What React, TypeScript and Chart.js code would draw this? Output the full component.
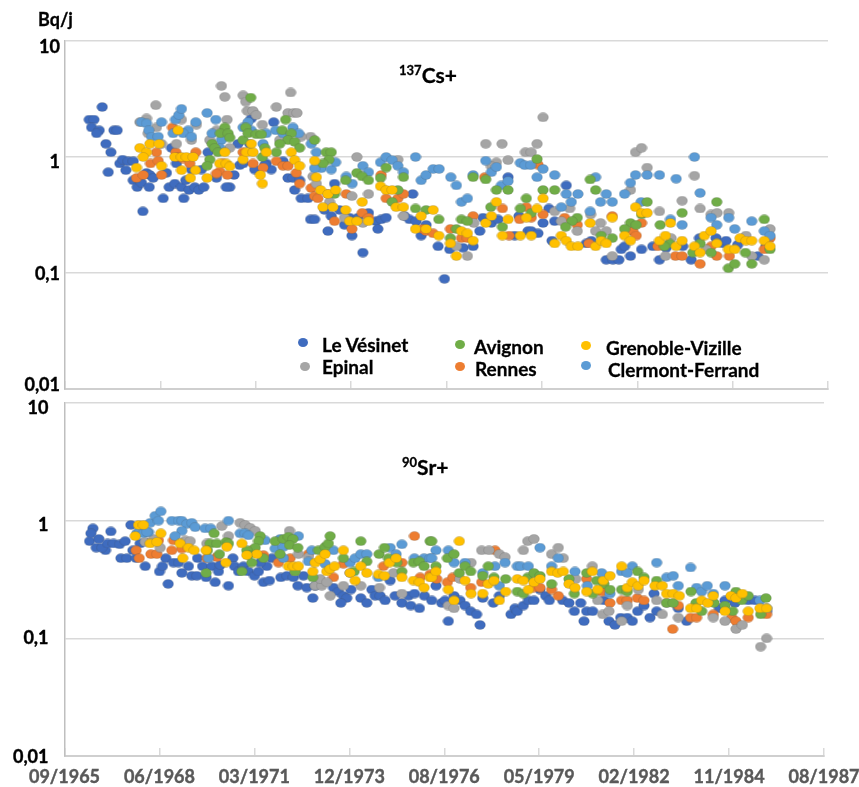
import React, { useEffect, useRef } from "react";
import { Chart, registerables } from "chart.js";

Chart.register(...registerables);

type P = [number, number];

const xTickLabels = ["09/1965", "06/1968", "03/1971", "12/1973", "08/1976", "05/1979", "02/1982", "11/1984", "08/1987"];
const yTickValues = [10, 1, 0.1, 0.01];
const yTickLabels = ["10", "1", "0,1", "0,01"];
const seriesNames = ["Le Vésinet", "Rennes", "Epinal", "Clermont-Ferrand", "Avignon", "Grenoble-Vizille"];
const seriesColors = ["#3F6CBF", "#ED7D31", "#A5A5A5", "#5B9BD5", "#70AD47", "#FFC000"];

const csVesinet: P[] = [[24254,2.1],[24303,2.1],[24279,1.8],[24359,1.7],[24331,1.6],[24390,2.7],[24429,1.3],[24481,1.1],[24453,.74],[24513,1.7],[24547,1.7],[24575,.88],[24603,.95],[24638,.77],[24663,.92],[24715,.92],[24715,.63],[24757,.55],[24802,.6],[24855,.73],[24890,.7],[24924,.66],[24883,.55],[25029,.44],[25064,.73],[25092,.55],[25151,.59],[25221,.55],[25245,.44],[25169,.88],[25116,1.2],[25266,.63],[25301,.52],[25361,.55],[25403,.52],[25455,.55],[24816,.34],[25326,.78],[25430,.78],[25500,1.1],[25588,.66],[25727,.55],[25692,.55],[25772,.7],[25814,1.3],[25832,.85],[25867,.88],[25937,1.3],[25954,2.15],[25989,.78],[26111,.88],[26163,.78],[26094,.85],[26188,2],[26286,.92],[26338,.66],[26390,.66],[26408,.52],[26460,.63],[26477,.44],[26547,.44],[26575,.29],[26617,.29],[26757,.23],[26722,.35],[26792,.31],[26826,.59],[26879,.35],[26931,.26],[26983,.3],[27008,.21],[27071,.3],[27123,.15],[27182,.33],[27262,.28],[27280,.24],[27315,.29],[27367,.3],[27646,.48],[27559,.31],[27612,.29],[27681,.28],[27734,.21],[27786,.26],[27912,.17],[27979,.089],[28034,.16],[28174,.165],[28279,.17],[28349,.23],[28383,.3],[28471,.27],[28540,.29],[28645,.67],[28715,.21],[28760,.31],[28855,.23],[28889,.23],[28959,.22],[29012,.27],[29074,.36],[29106,.19],[29134,.28],[29256,.57],[29465,.18],[29518,.19],[29675,.13],[29745,.13],[29807,.13],[29832,.16],[29867,.17],[29929,.14],[30045,.16],[30163,.17],[30233,.13],[30303,.165],[30477,.17],[30565,.13],[30652,.2],[30826,.2],[30896,.18],[30931,.19],[31053,.175],[31263,.14],[31350,.17]];
const csRennes: P[] = [[25127,1.8],[25162,1.1],[25176,1],[25239,.97],[25308,.88],[25371,1.1],[24750,.66],[24820,.7],[24896,.88],[24959,1.1],[24977,.93],[25012,.7],[25622,.75],[25588,.72],[25703,.7],[25657,.88],[25867,1.1],[25971,.88],[26076,.81],[26216,.92],[26286,.84],[26338,.84],[26425,.73],[26460,.59],[26582,.54],[26617,.46],[26652,.44],[26826,.28],[26949,.48],[27008,.24],[27116,.33],[27182,.3],[27315,.7],[27367,.44],[27490,.44],[27549,.48],[27751,.24],[27786,.23],[26757,.48],[28401,.67],[28959,.86],[28837,.37],[28586,.36],[28279,.31],[28041,.24],[28157,.2],[28219,.2],[27860,.22],[28656,.21],[28767,.29],[28889,.3],[29012,.32],[29238,.3],[29371,.26],[29738,.31],[29493,.18],[29954,.23],[29989,.21],[30045,.27],[30216,.17],[30401,.14],[30470,.14],[30659,.12],[30833,.14],[30774,.17],[30966,.14],[31332,.16],[31392,.2]];
const csEpinal: P[] = [[25640,4.1],[25675,3.3],[25867,3.4],[25895,3],[25912,2.5],[25971,2.5],[26006,2.3],[26069,1.9],[26216,2.7],[26366,3.6],[26338,2.4],[26397,2.4],[26432,2.4],[26575,1.5],[24952,2.8],[24785,2],[24855,2.15],[24959,1.8],[25169,1.3],[25221,2.1],[25326,1.4],[25378,1.9],[25699,2.1],[25727,1.2],[25518,1.4],[25588,1.7],[27060,1],[27182,.48],[27490,.95],[26635,.59],[26600,.68],[27008,.46],[26774,.41],[26931,.3],[27123,.27],[27549,.31],[24872,1.6],[25012,1.3],[26251,1.4],[26477,1.5],[28411,1.3],[28582,1.3],[28645,.94],[28523,.9],[28471,.83],[28827,1.1],[28889,1.1],[28949,1.3],[29012,2.2],[29982,1.1],[30045,1.2],[30104,.81],[29929,.52],[30233,.34],[30470,.42],[30600,.69],[30659,.36],[30774,.32],[30837,.33],[30959,.33],[28219,.14],[28104,.17],[28286,.27],[29134,.34],[29204,.28],[29291,.36],[29371,.23],[29511,.32],[29563,.23],[29615,.27],[29675,.23],[29738,.14],[30296,.14],[30355,.2],[31200,.14],[31332,.13],[31392,.24],[31140,.21],[30722,.16]];
const csClermont: P[] = [[24802,2],[24855,1.95],[24879,1.7],[24907,1.5],[24977,1.5],[25012,2],[25134,1.6],[25158,2.1],[25193,2.3],[25221,2.6],[25291,1.7],[25239,1.6],[25326,1.5],[25371,2],[25490,2.4],[25581,2.1],[25542,1.6],[25640,1.4],[25867,1.8],[25919,2],[25954,1.7],[26111,1.6],[26209,1.7],[26286,1.6],[26390,1.8],[26450,1.6],[26582,1.3],[26635,1.1],[26687,.8],[26792,.78],[26837,.9],[26949,.68],[27011,.59],[27123,.84],[27182,.74],[27308,.9],[27367,1],[27430,.94],[27490,.84],[27549,.74],[27675,1],[27734,.63],[27786,.7],[26076,1.3],[25622,1.2],[26617,.8],[27860,.79],[27923,.79],[28045,.67],[28104,.57],[28157,.41],[28219,.44],[28279,.7],[28411,.93],[28471,.74],[28523,.82],[28575,.57],[28645,.62],[28774,.89],[28820,.85],[28882,.85],[28949,.67],[29012,.79],[29134,.7],[29256,.48],[29308,.41],[29378,.48],[29507,.34],[29563,.67],[29615,.41],[29675,.48],[29738,.41],[29867,.48],[29929,.6],[29982,.7],[30104,.7],[30041,.41],[30233,.7],[30348,.29],[30408,.65],[30470,.26],[30600,1],[30659,.49],[30774,.3],[30833,.26],[30959,.3],[31022,.24],[31200,.28],[31332,.23],[31392,.21],[29204,.37]];
const csAvignon: P[] = [[25947,3.25],[26313,2.1],[25675,1.8],[25629,1.6],[25710,1.6],[25727,1.47],[25895,1.8],[25867,1.4],[25919,1.6],[26006,1.57],[26059,1.57],[26094,1.2],[26069,1],[26279,1.7],[26373,1.6],[26338,1.4],[26408,1.35],[26460,1.2],[26251,1.3],[26216,1.1],[26617,1.4],[26739,1.1],[26792,1.1],[26767,.95],[26704,.88],[25542,1.3],[25570,1.2],[25605,1.1],[25518,.95],[25490,.84],[26942,.63],[27060,.73],[27116,.68],[27182,.63],[27367,.81],[27308,.66],[27490,.52],[27549,.67],[27675,.36],[27786,.35],[27430,.41],[26826,.48],[28279,.67],[28411,.64],[28523,.52],[28645,.52],[28949,.96],[29012,.52],[29134,.52],[28837,.44],[28774,.36],[28464,.37],[28889,.33],[28586,.25],[27919,.29],[28157,.29],[28219,.28],[28104,.24],[28041,.2],[29507,.64],[29563,.52],[30104,.41],[30045,.32],[29929,.27],[29989,.26],[29867,.24],[29371,.3],[29315,.28],[29249,.25],[29738,.2],[30240,.26],[30470,.33],[30833,.41],[31332,.29],[30659,.18],[30774,.15],[30582,.15],[30338,.18],[30285,.17],[30956,.11],[31022,.12],[31200,.12],[31134,.15],[31392,.16],[29622,.21]];
const csGrenoble: P[] = [[24785,1.2],[24855,1.1],[24820,1],[24750,.81],[24890,1.3],[24987,1.3],[25012,.84],[25186,1.7],[25151,1],[25221,1],[25273,1],[25343,1],[25221,.77],[25315,.66],[25368,.77],[25490,.66],[25622,.88],[25692,.88],[25727,.83],[25675,1.1],[25867,.95],[25902,1.1],[25971,1.1],[25954,1.3],[26048,.7],[26069,.59],[26111,1.1],[26373,1.1],[26408,.94],[26460,.84],[26617,.93],[26635,.67],[26680,.52],[26757,.48],[26837,.52],[26704,.37],[26809,.37],[26942,.35],[26983,.28],[27060,.28],[27116,.41],[27182,.28],[27308,.56],[27367,.52],[27430,.52],[27472,.37],[27549,.37],[27675,.24],[27734,.31],[27786,.24],[27860,.35],[27919,.21],[28041,.18],[28104,.14],[28157,.23],[28219,.22],[28279,.19],[28411,.27],[28471,.31],[28523,.41],[28586,.21],[28645,.29],[28774,.21],[28837,.3],[28889,.21],[28949,.36],[29012,.44],[29204,.21],[29134,.18],[29256,.19],[29308,.17],[29378,.17],[29507,.27],[29563,.17],[29622,.19],[29675,.18],[29738,.3],[29867,.21],[29929,.19],[29982,.37],[30045,.33],[30104,.33],[30233,.19],[30296,.21],[30348,.27],[30408,.17],[30470,.19],[30600,.17],[30659,.15],[30704,.21],[30774,.23],[30833,.18],[30956,.16],[31022,.16],[31078,.2],[31140,.19],[31200,.19],[31332,.19],[31392,.17]];

const srVesinet: P[] = [[24264,.67],[24299,.86],[24278,.78],[24362,.7],[24334,.59],[24432,.56],[24394,.59],[24453,.64],[24488,.81],[24516,.64],[24580,.63],[24639,.67],[24699,.92],[24720,.56],[24594,.48],[24657,.48],[24755,.48],[24797,.64],[24850,.41],[25001,.37],[25032,.41],[25067,.48],[25092,.29],[25148,.44],[25201,.44],[25236,.36],[25306,.41],[25341,.34],[25401,.48],[25394,.34],[25454,.41],[25492,.33],[25552,.41],[25587,.3],[25622,.37],[25640,.42],[25727,.28],[25773,.48],[25791,.41],[25833,.37],[25885,.41],[25938,.37],[26001,.34],[26043,.37],[26096,.3],[26159,.31],[26131,.41],[26061,.44],[26184,.48],[26278,.33],[26342,.34],[26412,.33],[26457,.28],[26517,.34],[26552,.27],[26640,.28],[26615,.22],[26833,.27],[26886,.25],[26938,.23],[26973,.22],[27016,.26],[26910,.2],[27121,.22],[27184,.2],[27237,.26],[27272,.23],[27325,.23],[27377,.21],[27430,.31],[27483,.23],[27553,.2],[27623,.23],[27647,.19],[27686,.24],[27739,.18],[27791,.23],[27868,.21],[27973,.2],[28008,.21],[27913,.28],[28043,.14],[28103,.23],[28166,.21],[28219,.19],[28278,.17],[28341,.16],[28377,.13],[28405,.22],[28517,.2],[28580,.23],[28703,.16],[28745,.18],[28770,.17],[28833,.19],[28886,.21],[28945,.21],[29008,.26],[29068,.23],[29107,.21],[29247,.21],[29314,.2],[29370,.17],[29437,.2],[29472,.14],[29500,.17],[29563,.17],[29682,.21],[29735,.14],[29798,.13],[29858,.15],[29928,.15],[29981,.14],[30037,.17],[30104,.19],[30167,.15],[30209,.24],[30237,.17],[30465,.18],[30553,.14],[30897,.18],[30957,.21],[31062,.2],[31202,.21],[31272,.21],[31395,.17]];
const srRennes: P[] = [[24755,.56],[24787,.48],[24910,.52],[24973,.52],[25130,.56],[25236,.58],[26254,.44],[26377,.48],[25604,.49],[26833,.33],[27553,.44],[27360,.41],[27686,.74],[27851,.35],[24990,.68],[25148,.68],[25499,.48],[26096,.51],[26570,.52],[26938,.43],[27746,.33],[25973,.56],[27920,.32],[28033,.3],[28089,.33],[28278,.27],[28535,.56],[29201,.23],[29745,.2],[29868,.21],[29928,.21],[30034,.22],[30104,.21],[30406,.12],[30465,.19],[30595,.15],[30658,.15],[30834,.16],[31027,.15],[31073,.14],[31202,.15],[31395,.16],[28394,.3],[28938,.27],[29008,.27],[29131,.26],[29500,.32],[29658,.25]];
const srEpinal: P[] = [[25271,.68],[25324,.67],[25499,.64],[25657,.9],[25850,.96],[25903,.92],[25956,.87],[26008,.82],[25727,.74],[24850,.66],[24937,.7],[25008,.59],[26370,.82],[26464,.52],[26570,.49],[26640,.28],[26710,.28],[26693,.32],[26763,.3],[26798,.23],[26938,.28],[27121,.28],[27008,.36],[27318,.27],[27553,.24],[27465,.36],[26429,.37],[28394,.56],[28471,.56],[28580,.52],[28640,.49],[28282,.44],[28833,.56],[28879,.67],[28945,.7],[29131,.52],[29201,.59],[29254,.48],[28166,.32],[28043,.19],[28103,.18],[29560,.41],[29616,.21],[29669,.16],[29735,.17],[29868,.14],[29928,.19],[30237,.21],[30297,.16],[30465,.15],[30834,.15],[30957,.14],[31073,.12],[31140,.13],[31333,.085],[31395,.1],[29384,.32],[30044,.26],[30342,.2]];
const srClermont: P[] = [[24762,.78],[24797,.82],[24832,.78],[24885,.8],[24903,.96],[24955,1.1],[24990,1],[25015,1.2],[25130,1],[25201,1],[25236,1],[25288,.94],[25341,.96],[25376,.88],[25236,.82],[25165,.74],[25481,.86],[25541,.86],[25727,1],[25850,.78],[25903,.78],[25938,.75],[26113,.68],[26271,.7],[26359,.7],[26464,.74],[26219,.58],[26306,.6],[25516,.48],[26306,.48],[26570,.45],[26605,.56],[26833,.56],[26745,.43],[27008,.44],[27061,.48],[27121,.52],[27184,.52],[27307,.33],[27430,.59],[27493,.52],[27553,.63],[27686,.48],[27788,.48],[27851,.48],[24867,.8],[27913,.56],[27868,.48],[28043,.56],[28103,.44],[28219,.44],[28405,.36],[28534,.41],[28580,.28],[28640,.44],[28770,.41],[28805,.41],[28886,.41],[29008,.59],[29131,.41],[29201,.48],[29377,.37],[29507,.28],[29658,.36],[29745,.24],[29868,.37],[29981,.41],[29928,.36],[30237,.44],[30342,.33],[30412,.34],[30465,.28],[30595,.4],[30658,.27],[30711,.25],[30770,.28],[30834,.24],[30957,.28],[31062,.23],[31325,.21],[31395,.18]];
const srAvignon: P[] = [[25576,.78],[25534,.64],[25604,.64],[25703,.66],[25727,.64],[25506,.56],[25632,.52],[25492,.36],[25868,.37],[26061,.74],[26043,.67],[26008,.59],[25920,.56],[25938,.51],[25973,.44],[26096,.48],[26219,.67],[26306,.7],[26359,.73],[26405,.7],[26370,.62],[26457,.59],[26271,.52],[26429,.37],[26615,.33],[26675,.56],[26745,.6],[26780,.64],[26798,.74],[26938,.48],[27121,.67],[27184,.45],[27314,.52],[27370,.59],[27412,.48],[27500,.44],[27553,.37],[27675,.44],[27739,.45],[27788,.41],[27851,.67],[27051,.37],[27868,.67],[27913,.41],[28033,.48],[28103,.52],[28159,.36],[28219,.41],[28278,.37],[28405,.34],[28464,.41],[28524,.33],[28647,.32],[28770,.25],[28833,.24],[28879,.33],[28945,.36],[29008,.34],[29131,.29],[29314,.32],[29370,.24],[29500,.36],[29563,.24],[29605,.31],[29682,.29],[29745,.26],[29868,.26],[29928,.25],[30037,.37],[30104,.33],[30237,.31],[30342,.2],[30412,.2],[30599,.25],[30652,.2],[30711,.17],[30841,.2],[30957,.19],[31038,.17],[31073,.25],[31133,.21],[31202,.23],[31333,.16],[31389,.22]];
const srGrenoble: P[] = [[24780,.92],[24832,.92],[24745,.74],[24903,.64],[24973,.66],[25015,.78],[25218,.64],[25246,.48],[25306,.59],[25366,.56],[25492,.56],[25699,.44],[25868,.64],[26026,.52],[26359,.41],[26412,.41],[26464,.41],[26615,.37],[26640,.44],[26693,.47],[26745,.52],[26763,.37],[26798,.39],[26844,.41],[26938,.56],[27008,.36],[27061,.31],[27121,.41],[27184,.36],[27307,.35],[27370,.34],[27423,.44],[27493,.48],[27553,.33],[27675,.31],[27739,.3],[27788,.27],[27851,.33],[25710,.6],[25920,.51],[27868,.33],[27913,.37],[28043,.26],[28103,.21],[28159,.67],[28219,.31],[28282,.24],[28405,.24],[28464,.29],[28524,.31],[28647,.25],[28580,.21],[28770,.32],[28833,.31],[28886,.26],[28945,.3],[29008,.32],[29131,.37],[29195,.36],[29254,.37],[29314,.29],[29377,.27],[29500,.25],[29560,.37],[29616,.26],[29676,.31],[29746,.34],[29868,.41],[29928,.27],[29981,.3],[30044,.28],[30104,.31],[30220,.28],[30297,.28],[30342,.24],[30412,.24],[30476,.23],[30595,.18],[30658,.18],[30711,.21],[30775,.2],[30834,.23],[30957,.17],[31020,.23],[31073,.22],[31140,.24],[31202,.17],[31325,.18],[31395,.18]];

const csSeries = [csVesinet, csRennes, csEpinal, csClermont, csAvignon, csGrenoble];
const srSeries = [srVesinet, srRennes, srEpinal, srClermont, srAvignon, srGrenoble];

const legendEntries = [
  { name: "Le Vésinet", color: 0, dot: [303, 342], text: [322, 345] },
  { name: "Epinal", color: 2, dot: [305, 366], text: [322, 367] },
  { name: "Avignon", color: 4, dot: [460, 344], text: [474, 347] },
  { name: "Rennes", color: 1, dot: [460, 366], text: [475, 369] },
  { name: "Grenoble-Vizille", color: 5, dot: [586, 345], text: [606, 348] },
  { name: "Clermont-Ferrand", color: 3, dot: [586, 365], text: [608, 370] },
];

const FONT = "Lato, Carlito, sans-serif";

function sprite(color: string) {
  const c = document.createElement("canvas");
  c.width = 12;
  c.height = 10;
  const g = c.getContext("2d")!;
  g.beginPath();
  g.ellipse(6, 5, 5.4, 4.6, 0, 0, Math.PI * 2);
  g.fillStyle = color;
  g.fill();
  g.lineWidth = 0.6;
  g.strokeStyle = "rgba(70,70,70,0.3)";
  g.stroke();
  return c;
}

// The reference's value labels sit a little off their gridlines, each by its own amount.
const nudgeYLabels = {
  id: "nudgeYLabels",
  beforeDraw(chart: any, _args: any, opts: any) {
    const y = chart.scales.y;
    y.getLabelItems(chart.chartArea).forEach((item: any, i: number) => {
      item.options.translation = [item.options.translation[0], item.options.translation[1] + opts.offsets[i]];
    });
  },
};

function build(
  canvas: HTMLCanvasElement,
  series: P[][],
  cfg: { top: number; xH: number; showX: boolean; yPad: number; offsets: number[] }
) {
  return new Chart(canvas, {
    type: "scatter",
    plugins: [nudgeYLabels],
    data: {
      datasets: series.map((pts, i) => ({
        label: seriesNames[i],
        data: pts.map(([x, y]) => ({ x, y })),
        pointStyle: sprite(seriesColors[i]) as any,
        backgroundColor: seriesColors[i],
        order: series.length - i,
      })),
    },
    options: {
      responsive: false,
      animation: false,
      layout: { padding: { top: cfg.top, left: 0, right: canvas.width - (cfg.showX ? 824 : 828), bottom: 0 } },
      plugins: {
        legend: { display: false },
        tooltip: { enabled: false },
        nudgeYLabels: { offsets: cfg.offsets },
      },
      scales: {
        x: {
          type: "linear",
          min: 24000,
          max: 32000,
          afterBuildTicks: (s: any) => {
            s.ticks = xTickLabels.map((_, i) => ({ value: 24000 + i * 1000 }));
          },
          afterFit: (s: any) => {
            s.height = cfg.xH;
            s.paddingLeft = s.paddingRight = 0;
          },
          grid: { drawOnChartArea: false, drawTicks: true, tickLength: -8, color: "#D9D9D9", lineWidth: 1.5 },
          border: { color: "#CFCFCF", width: 2 },
          ticks: {
            display: cfg.showX,
            autoSkip: false,
            maxRotation: 0,
            padding: 18,
            color: "#595959",
            textStrokeColor: "#595959",
            textStrokeWidth: 0.4,
            font: { family: FONT, weight: "bold", size: 18 },
            callback: (_v: any, i: number) => xTickLabels[i],
          },
        },
        y: {
          type: "logarithmic",
          min: 0.01,
          max: 10,
          afterBuildTicks: (s: any) => {
            s.ticks = yTickValues.map((value) => ({ value }));
          },
          afterFit: (s: any) => {
            s.width = cfg.showX ? 64.5 : 65;
            s.paddingTop = s.paddingBottom = 0;
          },
          grid: { drawTicks: false, color: "#D9D9D9", lineWidth: 1.5 },
          border: { color: "#BFBFBF", width: 1.5 },
          ticks: {
            autoSkip: false,
            padding: cfg.yPad,
            color: "#000000",
            textStrokeColor: "#000000",
            textStrokeWidth: 0.4,
            font: { family: FONT, weight: "bold", size: 18 },
            callback: (_v: any, i: number) => yTickLabels[i],
          },
        },
      },
    } as any,
  });
}

const labelStyle: React.CSSProperties = {
  position: "absolute",
  fontFamily: FONT,
  fontWeight: 700,
  fontSize: 19,
  lineHeight: "22px",
  color: "#000",
  whiteSpace: "nowrap",
  WebkitTextStroke: "0.3px #000",
};

function Nuclide({ mass, name, x, y }: { mass: string; name: string; x: number; y: number }) {
  return (
    <div style={{ ...labelStyle, left: x, top: y, fontSize: 21 }}>
      <span style={{ fontSize: 13, position: "relative", top: -8 }}>{mass}</span>
      {name}
    </div>
  );
}

export default function App() {
  const topRef = useRef<HTMLCanvasElement>(null);
  const botRef = useRef<HTMLCanvasElement>(null);

  useEffect(() => {
    const a = build(topRef.current!, csSeries, { top: 41, xH: 6, showX: false, yPad: 5, offsets: [6, 5, 1, -4] });
    const b = build(botRef.current!, srSeries, { top: 8, xH: 31, showX: true, yPad: 16, offsets: [5, 5, 0, 1] });
    return () => {
      a.destroy();
      b.destroy();
    };
  }, []);

  return (
    <div style={{ position: "absolute", left: 0, top: 0, width: 859, height: 787, background: "#fff", overflow: "hidden" }}>
      <canvas ref={topRef} width={859} height={395} style={{ position: "absolute", left: 0, top: 0, display: "block" }} />
      <canvas ref={botRef} width={859} height={392} style={{ position: "absolute", left: 0, top: 395, display: "block" }} />
      <div style={{ ...labelStyle, left: 38, top: 8, fontSize: 18 }}>Bq/j</div>
      <Nuclide mass="137" name="Cs+" x={399} y={64} />
      <Nuclide mass="90" name="Sr+" x={402} y={456} />
      {legendEntries.map((e) => (
        <React.Fragment key={e.name}>
          <div
            style={{
              position: "absolute",
              left: e.dot[0] - 5,
              top: e.dot[1] - 4.5,
              width: 10,
              height: 9,
              borderRadius: "50%",
              background: seriesColors[e.color],
            }}
          />
          <div style={{ ...labelStyle, left: e.text[0], top: e.text[1] - 11 }}>{e.name}</div>
        </React.Fragment>
      ))}
    </div>
  );
}
